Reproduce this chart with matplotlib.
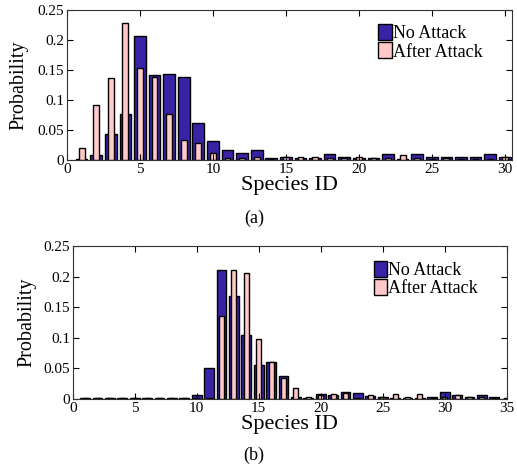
import matplotlib
matplotlib.use("Agg")
import matplotlib.pyplot as plt
import numpy as np

plt.rcParams['font.family'] = ['Liberation Serif', 'DejaVu Serif']
plt.rcParams['mathtext.fontset'] = 'stix'

# (a) species 1..30
ids_a = list(range(1, 31))
no_attack_a = [0.002, 0.008, 0.043, 0.076, 0.207, 0.141, 0.144, 0.139, 0.062, 0.032,
               0.016, 0.011, 0.016, 0.003, 0.005, 0.004, 0.004, 0.010, 0.005, 0.004,
               0.003, 0.010, 0.002, 0.010, 0.005, 0.005, 0.005, 0.005, 0.010, 0.005]
after_attack_a = [0.020, 0.092, 0.136, 0.228, 0.154, 0.139, 0.077, 0.033, 0.028, 0.012,
                  0.003, 0.003, 0.005, 0.002, 0.005, 0.005, 0.005, 0.003, 0.003, 0.005,
                  0.004, 0.004, 0.008, 0.003, 0.002, 0.004, 0.002, 0.002, 0.002, 0.005]

# (b) species 1..35
ids_b = list(range(1, 36))
no_attack_b = [0.002, 0.002, 0.002, 0.002, 0.002, 0.002, 0.002, 0.002, 0.002, 0.007,
               0.050, 0.210, 0.168, 0.104, 0.056, 0.060, 0.038, 0.004, 0.002, 0.008,
               0.007, 0.011, 0.009, 0.005, 0.003, 0.002, 0.002, 0.002, 0.003, 0.012,
               0.006, 0.003, 0.006, 0.004, 0.000]
after_attack_b = [0.002, 0.002, 0.002, 0.002, 0.002, 0.002, 0.002, 0.002, 0.002, 0.002,
                  0.002, 0.135, 0.211, 0.206, 0.098, 0.060, 0.034, 0.018, 0.003, 0.007,
                  0.008, 0.009, 0.002, 0.006, 0.004, 0.008, 0.004, 0.008, 0.002, 0.004,
                  0.006, 0.003, 0.004, 0.002, 0.002]

yticks = [0, 0.05, 0.1, 0.15, 0.2, 0.25]
ytick_labels = ['0', '0.05', '0.1', '0.15', '0.2', '0.25']

BLUE = '#3A22A6'
PINK = '#FFC9C9'

fig = plt.figure(figsize=(5.17, 4.70), dpi=100)
ax1 = fig.add_axes([0.1296, 0.6596, 0.8608, 0.3191])
ax2 = fig.add_axes([0.1406, 0.1511, 0.8395, 0.3255])

def draw(ax, ids, na, aa, xmax, xticks, ylab_x, leg_y):
    ax.bar(ids, na, width=0.8, color=BLUE, edgecolor='black', linewidth=1.0, label='No Attack')
    ax.bar(ids, aa, width=0.4, color=PINK, edgecolor='black', linewidth=1.0, label='After Attack')
    ax.set_xlim(0, xmax)
    ax.set_ylim(0, 0.25)
    ax.set_yticks(yticks)
    ax.set_yticklabels(ytick_labels)
    ax.set_xticks(xticks)
    ax.tick_params(direction='in', top=True, right=True, labelsize=11, length=4,
                   width=0.8, pad=2)
    for s in ax.spines.values():
        s.set_linewidth(0.8)
        s.set_color('#333333')
    ax.set_xlabel('Species ID', fontsize=16, labelpad=0)
    ax.set_ylabel('Probability', fontsize=14.5)
    ax.yaxis.set_label_coords(ylab_x, 0.5)
    ax.legend(loc='upper right', bbox_to_anchor=(0.95, leg_y), frameon=False,
              fontsize=13, handlelength=0.75, handleheight=1.0,
              handletextpad=0.05, labelspacing=0.0, borderaxespad=0)

draw(ax1, ids_a, no_attack_a, after_attack_a, 30.5, [0, 5, 10, 15, 20, 25, 30], -0.086, 0.955)
draw(ax2, ids_b, no_attack_b, after_attack_b, 35, [0, 5, 10, 15, 20, 25, 30, 35], -0.083, 0.95)

fig.text(0.491, 1 - 218 / 470, '(a)', ha='center', va='center', fontsize=13)
fig.text(0.491, 1 - 455 / 470, '(b)', ha='center', va='center', fontsize=13)

fig.savefig('out.png', dpi=100)
